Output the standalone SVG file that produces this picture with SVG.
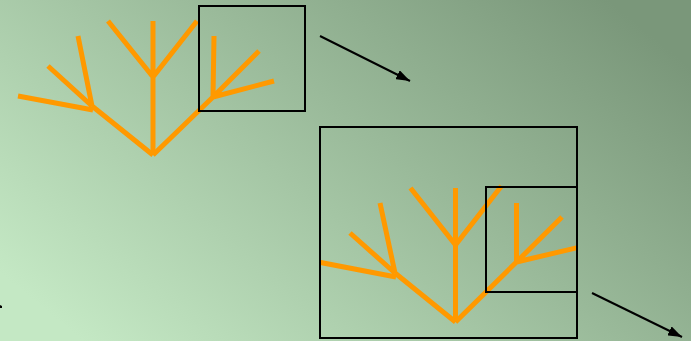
<svg xmlns="http://www.w3.org/2000/svg" width="691" height="341" viewBox="0 0 691 341">
<defs>
<linearGradient id="bg" x1="0" y1="0.8" x2="1" y2="0.2">
<stop offset="0" stop-color="#c4e8c4"/>
<stop offset="1" stop-color="#7a977a"/>
</linearGradient>
<marker id="ah" viewBox="0 0 14 10" refX="14" refY="5" markerWidth="14" markerHeight="10" markerUnits="userSpaceOnUse" orient="auto">
<path d="M0,0 L14,5 L0,10 z" fill="#000"/>
</marker>
<clipPath id="c2"><rect x="320" y="127" width="257" height="211"/></clipPath>
</defs>
<style>
.br{stroke:#ff9900;stroke-width:5;fill:none;stroke-linecap:butt;stroke-linejoin:miter}
.box{fill:none;stroke:#000;stroke-width:2}
.arr{stroke:#000;stroke-width:2;fill:none}
</style>
<rect width="691" height="341" fill="url(#bg)"/>
<g id="tree1">
<path class="br" d="M153,155 L153,77 M153,77 L153,21 M153,77 L108,21 M153,77 L197,21"/>
<path class="br" d="M153,155 L92,106 M92,106 L78,36 M92,106 L48,66 M93,110 L18,96"/>
<path class="br" d="M153,155 L213,97 M213,97 L214,36 M213,97 L259,51 M213,97 L274,81"/>
</g>
<g id="box1">
<rect class="box" x="199" y="6" width="106" height="105"/>
</g>
<g id="tree2" clip-path="url(#c2)">
<path class="br" d="M455.5,322 L455.5,245 M455.5,245 L455.5,188 M455.5,245 L410.5,188 M455.5,245 L501.5,186"/>
<path class="br" d="M455.5,322 L395,273 M395,273 L380,203 M395,273 L350,233 M396,277 L318,262"/>
<path class="br" d="M455.5,322 L516.5,262 M516.5,262 L516.5,203 M516.5,262 L562,217 M516.5,262 L580,247"/>
</g>
<g id="box2">
<rect class="box" x="320" y="127" width="257" height="211"/>
</g>
<g id="box3">
<rect class="box" x="486" y="187" width="91" height="105"/>
</g>
<g id="connectors">
<line class="arr" x1="320" y1="36" x2="410" y2="81" marker-end="url(#ah)"/>
<line class="arr" x1="592" y1="293" x2="682" y2="337" marker-end="url(#ah)"/>
<path d="M0,305 L2,306 L2,308 L0,308 z" fill="#000"/>
</g>
</svg>
